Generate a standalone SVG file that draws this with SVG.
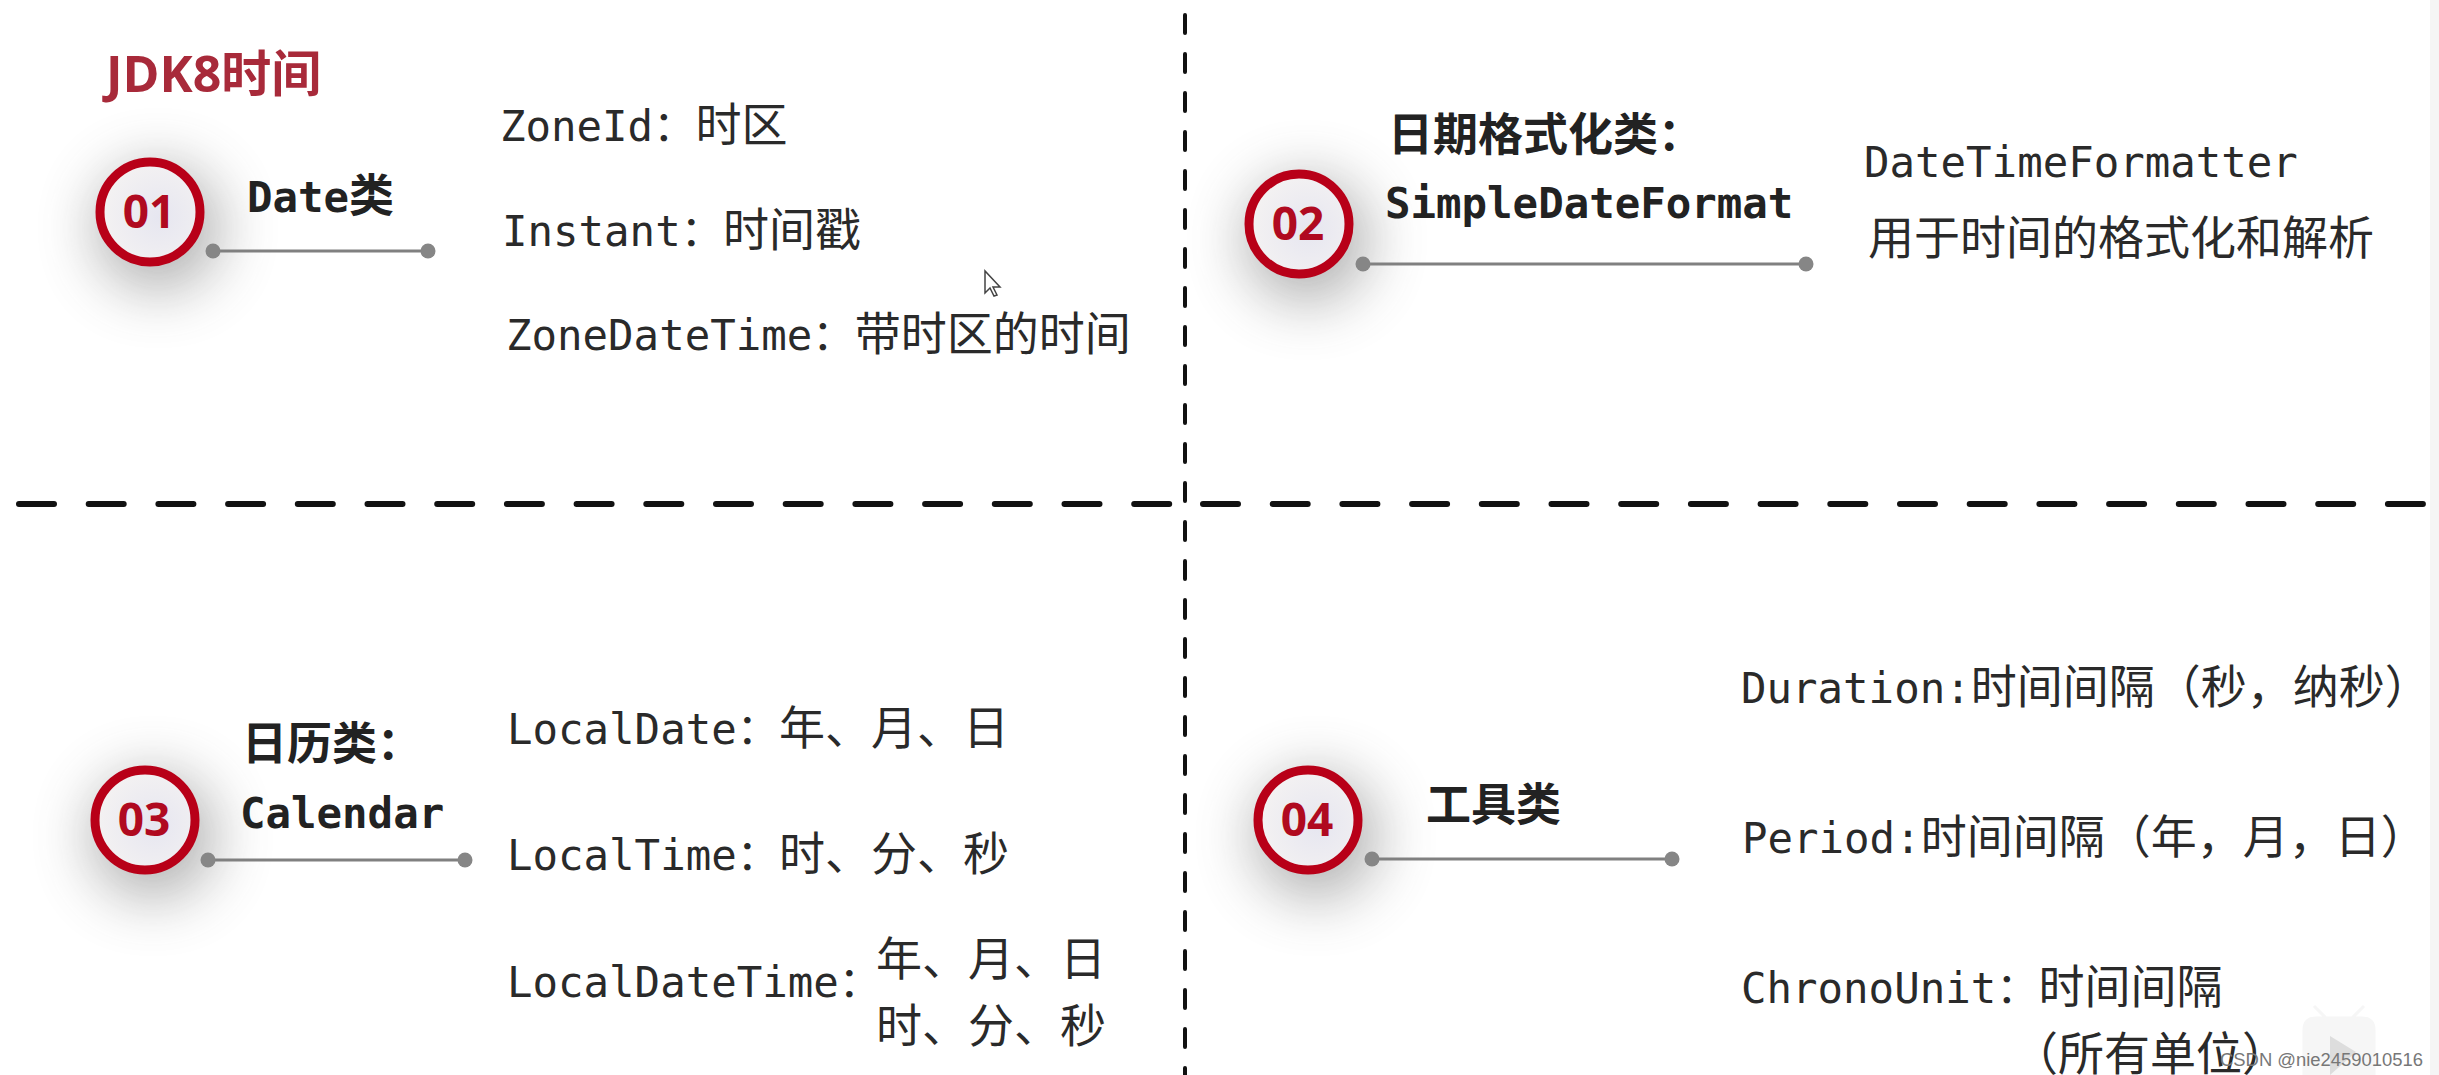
<svg xmlns="http://www.w3.org/2000/svg" width="2439" height="1075" viewBox="0 0 2439 1075">
<style>
text{font-family:"DejaVu Sans Mono","Noto Sans CJK SC",monospace;font-size:42.4px;fill:#2a2a2a}
.c{font-family:"Noto Sans CJK SC","DejaVu Sans",sans-serif;font-size:46px}
.b{font-weight:700;font-size:42.4px;fill:#222}
.cb{font-family:"Noto Sans CJK SC",sans-serif;font-weight:700;font-size:45px;fill:#222}
.n{font-family:"Open Sans",sans-serif;font-weight:700;font-size:46px;fill:#b00a20;text-anchor:middle}
.ring{fill:url(#inner);stroke:#b80018;stroke-width:9}
.sh{fill:#444;opacity:.42;filter:url(#blur)}
.ln{stroke:#808080;stroke-width:3}
.dot{fill:#868686}
.h{stroke:#111;stroke-width:6;stroke-linecap:round;stroke-dasharray:35 34.7;fill:none}
.v{stroke:#111;stroke-width:4;stroke-linecap:round;stroke-dasharray:18 21;fill:none}
</style>
<defs>
<filter id="blur" x="-120%" y="-120%" width="340%" height="340%"><feGaussianBlur stdDeviation="30"/></filter>
<radialGradient id="inner" cx=".6" cy=".55" r=".6"><stop offset="0" stop-color="#e6e6f0"/><stop offset="1" stop-color="#f4f2f2"/></radialGradient>
</defs>
<rect width="2439" height="1075" fill="#fff"/>
<rect x="2430" width="9" height="1075" fill="#f5f5f5"/>
<g id="node-01-shadow"><circle class="sh" cx="158" cy="228" r="62"/></g>
<g id="node-02-shadow"><circle class="sh" cx="1307" cy="240" r="62"/></g>
<g id="node-03-shadow"><circle class="sh" cx="153" cy="836" r="62"/></g>
<g id="node-04-shadow"><circle class="sh" cx="1316" cy="836" r="62"/></g>
<g id="connectors">
<path class="h" d="M19 504H1170"/>
<path class="h" d="M1203 504H2427"/>
<path class="v" d="M1185 15V1075"/>
<path class="ln" d="M213 251H428M1363 264H1806M208 860H465M1372 859H1672"/>
<g class="dot"><circle cx="213" cy="251" r="7.5"/><circle cx="428" cy="251" r="7.5"/><circle cx="1363" cy="264" r="7.5"/><circle cx="1806" cy="264" r="7.5"/><circle cx="208" cy="860" r="7.5"/><circle cx="465" cy="860" r="7.5"/><circle cx="1372" cy="859" r="7.5"/><circle cx="1672" cy="859" r="7.5"/></g>
</g>
<g id="title"><text x="106" y="92" style="font-family:'Open Sans','Noto Sans CJK SC',sans-serif;font-weight:700;font-size:50px;fill:#a82a3a">JDK8时间</text></g>
<g id="node-01">
<circle class="ring" cx="150" cy="212" r="50"/><text class="n" x="149" y="228">01</text>
<text class="b" x="247" y="212">Date<tspan class="cb">类</tspan></text>
<text x="500" y="141">ZoneId：<tspan class="c">时区</tspan></text>
<text x="502" y="246">Instant：<tspan class="c">时间戳</tspan></text>
<text x="506" y="350">ZoneDateTime：<tspan class="c">带时区的时间</tspan></text>
</g>
<g id="node-02">
<circle class="ring" cx="1299" cy="224" r="50"/><text class="n" x="1298" y="240">02</text>
<text class="cb" x="1388" y="151">日期格式化类：</text>
<text class="b" x="1385" y="218">SimpleDateFormat</text>
<text x="1864" y="177">DateTimeFormatter</text>
<text class="c" x="1868" y="254">用于时间的格式化和解析</text>
</g>
<g id="node-03">
<circle class="ring" cx="145" cy="820" r="50"/><text class="n" x="144" y="836">03</text>
<text class="cb" x="242" y="760">日历类：</text>
<text class="b" x="240" y="828">Calendar</text>
<text x="507" y="744">LocalDate：<tspan class="c">年、月、日</tspan></text>
<text x="507" y="870">LocalTime：<tspan class="c">时、分、秒</tspan></text>
<text x="507" y="997">LocalDateTime：</text>
<text class="c" x="876" y="975">年、月、日</text>
<text class="c" x="876" y="1042">时、分、秒</text>
</g>
<g id="node-04">
<circle class="ring" cx="1308" cy="820" r="50"/><text class="n" x="1307" y="836">04</text>
<text class="cb" x="1426" y="821">工具类</text>
<text x="1741" y="703">Duration:<tspan class="c">时间间隔（秒，纳秒）</tspan></text>
<text x="1742" y="853">Period:<tspan class="c">时间间隔（年，月，日）</tspan></text>
<text x="1741" y="1003">ChronoUnit：<tspan class="c">时间间隔</tspan></text>
<text class="c" x="2012" y="1070">（所有单位）</text>
</g>
<g id="overlay">
<path d="M985 271V293L990 288L994 296L997 295L993 287L1000 287Z" fill="#fff" stroke="#444" stroke-width="1.5"/>
<path d="M2316 1018h46q12 0 12 12v45h-70v-45q0-12 12-12zM2326 1018l-12-12M2352 1018l12-12" fill="#f6f6f6" stroke="#f6f6f6" stroke-width="3"/>
<path d="M2330 1036l26 16-26 23z" fill="#ddd"/>
<text x="2220" y="1066" style="font-family:'Liberation Sans',sans-serif;font-size:18px;fill:#777" textLength="203" lengthAdjust="spacingAndGlyphs">CSDN @nie2459010516</text>
</g>
</svg>
